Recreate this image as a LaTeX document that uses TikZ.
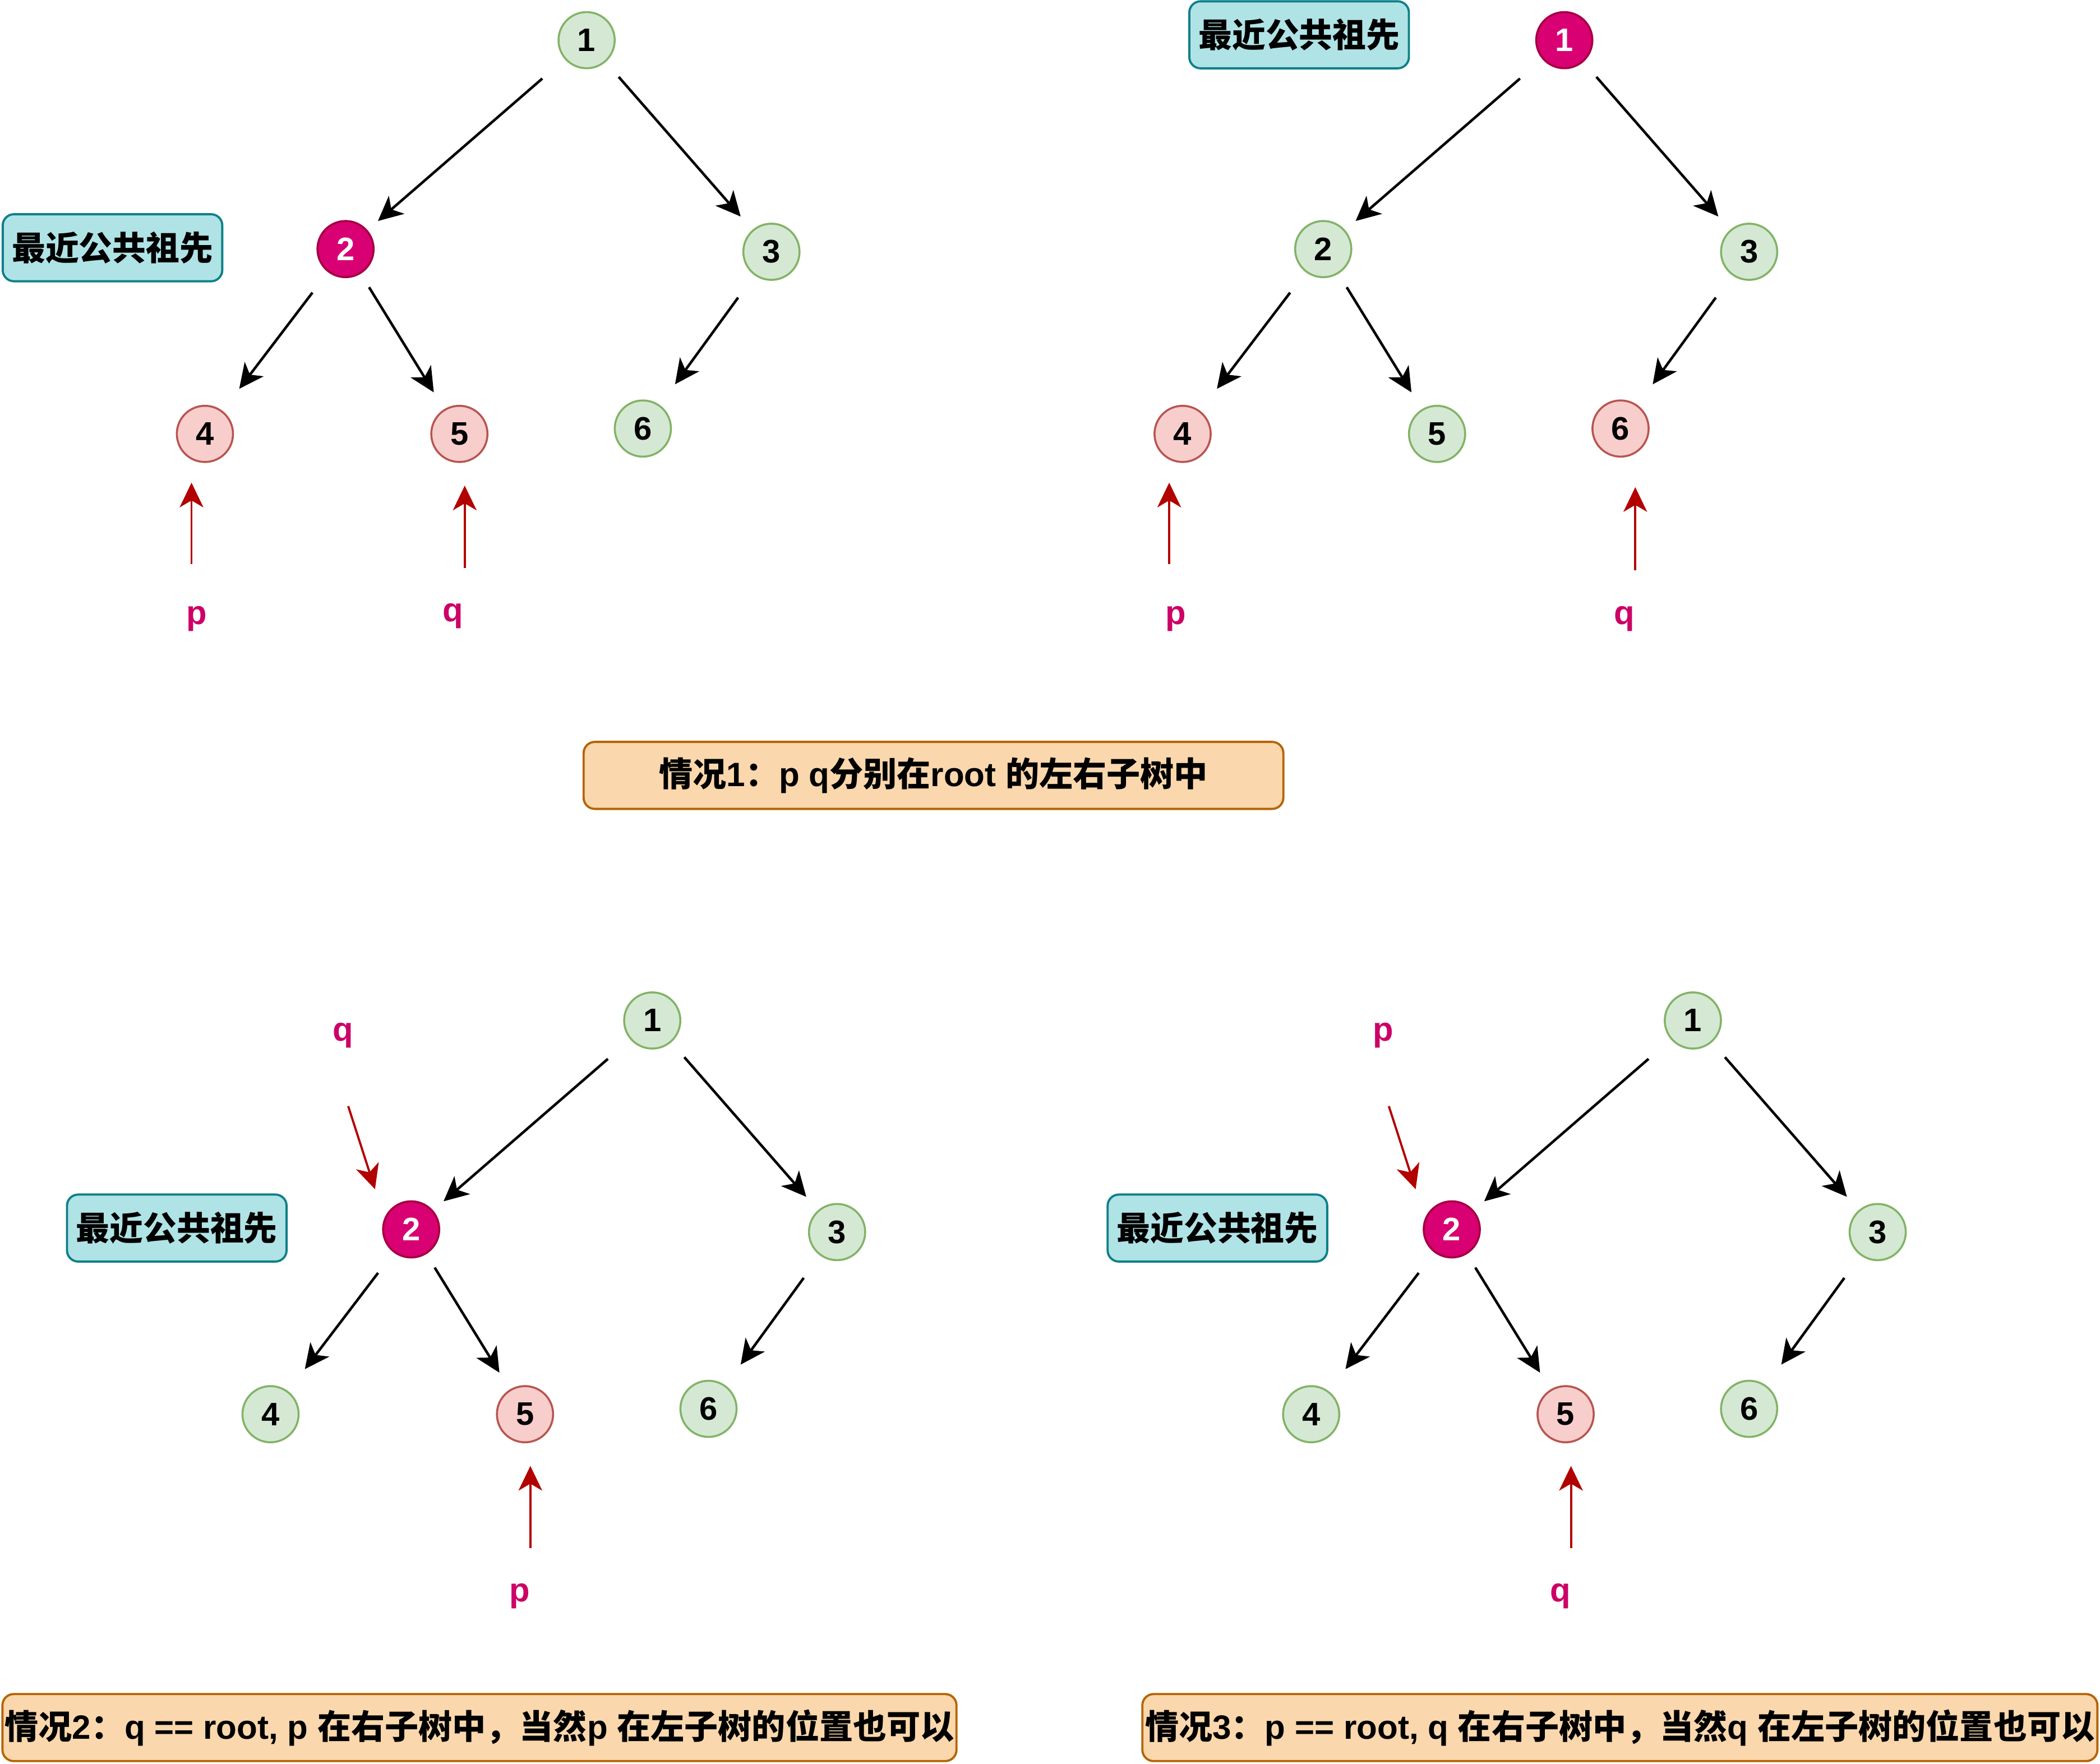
\documentclass[tikz,border=0pt]{standalone}
\usepackage{fontspec}
\setmainfont{Liberation Sans}
\newfontfamily\cjk{Noto Sans CJK SC}
\usetikzlibrary{arrows.meta}
\definecolor{gfill}{HTML}{D5E8D4}
\definecolor{gborder}{HTML}{82B366}
\definecolor{rfill}{HTML}{F8CECC}
\definecolor{rborder}{HTML}{B85450}
\definecolor{mfill}{HTML}{D80073}
\definecolor{mborder}{HTML}{A50040}
\definecolor{ancfill}{HTML}{B0E3E6}
\definecolor{ancborder}{HTML}{0E8088}
\definecolor{capfill}{HTML}{FAD7AC}
\definecolor{capborder}{HTML}{B46504}
\definecolor{ptrred}{HTML}{B20000}
\definecolor{pqcol}{HTML}{CC0066}
\newcommand\zh[1]{{\cjk #1}}
\tikzset{
  gn/.style={circle, draw=gborder, fill=gfill, line width=1pt, minimum size=28.5pt,
    inner sep=0pt, font=\fontsize{16.5}{16.5}\selectfont\bfseries},
  rn/.style={gn, draw=rborder, fill=rfill},
  mn/.style={gn, draw=mborder, fill=mfill, text=white},
  edge/.style={-{Stealth[length=12.5pt,width=12pt,inset=3.5pt]}, line width=1.3pt},
  ptr/.style={-{Stealth[length=12.5pt,width=12pt,inset=3.5pt]}, draw=ptrred, fill=ptrred, line width=1.1pt},
  pqlbl/.style={text=pqcol, font=\fontsize{17}{17}\selectfont\bfseries, inner sep=0pt},
  ancbox/.style={rounded corners=5.7pt, draw=ancborder, fill=ancfill, line width=1.1pt,
    minimum width=111.4pt, minimum height=34pt, inner sep=0pt,
    font=\cjk\fontsize{17}{17}\selectfont\bfseries},
  capbox/.style={rounded corners=5.7pt, draw=capborder, fill=capfill, line width=1.1pt,
    minimum height=34pt, inner sep=0pt, font=\fontsize{17.1}{17.1}\selectfont\bfseries},
}
\newcommand\mktree[7]{%
  \node[#2] (#1-1) at (438,30) {1};
  \node[#3] (#1-2) at (258,186) {2};
  \node[#4] (#1-3) at (576,188) {3};
  \node[#5] (#1-4) at (153,324) {4};
  \node[#6] (#1-5) at (343,324) {5};
  \node[#7] (#1-6) at (480,320) {6};
  \draw[edge, shorten <=15pt, shorten >=7pt] (#1-1) -- (#1-2);
  \draw[edge, shorten <=10pt, shorten >=9pt] (#1-1) -- (#1-3);
  \draw[edge, shorten <=13pt, shorten >=14pt] (#1-2) -- (#1-4);
  \draw[edge, shorten <=8pt, shorten >=10pt] (#1-2) -- (#1-5);
  \draw[edge, shorten <=14pt, shorten >=13pt] (#1-3) -- (#1-6);
}
\begin{document}
\begin{tikzpicture}[x=0.02388cm, y=-0.02388cm]
\useasboundingbox (0,0) rectangle (1568,1317);
\fill[white] (0,0) rectangle (1568,1317);

% ---------- top-left tree ----------
\begin{scope}
  \mktree{a}{gn}{mn}{gn}{rn}{rn}{gn}
  \node[ancbox] (ancA) at (84,185) {最近公共祖先};
  \node[pqlbl] (pA) at (147,462) {p};
  \node[pqlbl] (qA) at (338,460) {q};
  \coordinate (pAt) at (143,421);
  \coordinate (qAt) at (347,424);
  \draw[ptr, shorten >=10pt] (pAt) -- (pAt |- a-4.south);
  \draw[ptr, shorten >=11.5pt] (qAt) -- (qAt |- a-5.south);
\end{scope}

% ---------- top-right tree ----------
\begin{scope}[shift={(730,0)}]
  \mktree{b}{mn}{gn}{gn}{rn}{gn}{rn}
  \node[ancbox] (ancB) at (240,26) {最近公共祖先};
  \node[pqlbl] (pB) at (148,462) {p};
  \node[pqlbl] (qB) at (483,462) {q};
  \coordinate (pBt) at (143,421);
  \coordinate (qBt) at (491,426);
  \draw[ptr, shorten >=10pt] (pBt) -- (pBt |- b-4.south);
  \draw[ptr, shorten >=15pt] (qBt) -- (qBt |- b-6.south);
\end{scope}

% ---------- caption 1 ----------
\node[capbox, minimum width=355pt] (cap1) at (697,579)
  {\zh{情况}1\zh{：}p q\zh{分别在}root \zh{的左右子树中}};

% ---------- bottom-left tree ----------
\begin{scope}[shift={(49,732)}]
  \mktree{c}{gn}{mn}{gn}{gn}{rn}{gn}
  \node[ancbox] (ancC) at (83,185) {最近公共祖先};
  \node[pqlbl] (qC) at (207,41) {q};
  \node[pqlbl] (pC) at (339,460) {p};
  \coordinate (qCt) at (211,94);
  \coordinate (qCh) at (231,156);
  \draw[ptr] (qCt) -- (qCh);
  \coordinate (pCt) at (347,424);
  \draw[ptr, shorten >=11.5pt] (pCt) -- (pCt |- c-5.south);
\end{scope}

% ---------- bottom-right tree ----------
\begin{scope}[shift={(826,732)}]
  \mktree{d}{gn}{mn}{gn}{gn}{rn}{gn}
  \node[ancbox] (ancD) at (83,185) {最近公共祖先};
  \node[pqlbl] (pD) at (207,41) {p};
  \node[pqlbl] (qD) at (339,460) {q};
  \coordinate (pDt) at (211,94);
  \coordinate (pDh) at (231,156);
  \draw[ptr] (pDt) -- (pDh);
  \coordinate (qDt) at (347,424);
  \draw[ptr, shorten >=11.5pt] (qDt) -- (qDt |- d-5.south);
\end{scope}

% ---------- captions 2 and 3 ----------
\node[capbox, minimum width=484pt] (cap2) at (358,1290)
  {\zh{情况}2\zh{：}q == root, p \zh{在右子树中，当然}p \zh{在左子树的位置也可以}};
\node[capbox, minimum width=484.5pt] (cap3) at (1209.5,1290)
  {\zh{情况}3\zh{：}p == root, q \zh{在右子树中，当然}q \zh{在左子树的位置也可以}};
\end{tikzpicture}
\end{document}
